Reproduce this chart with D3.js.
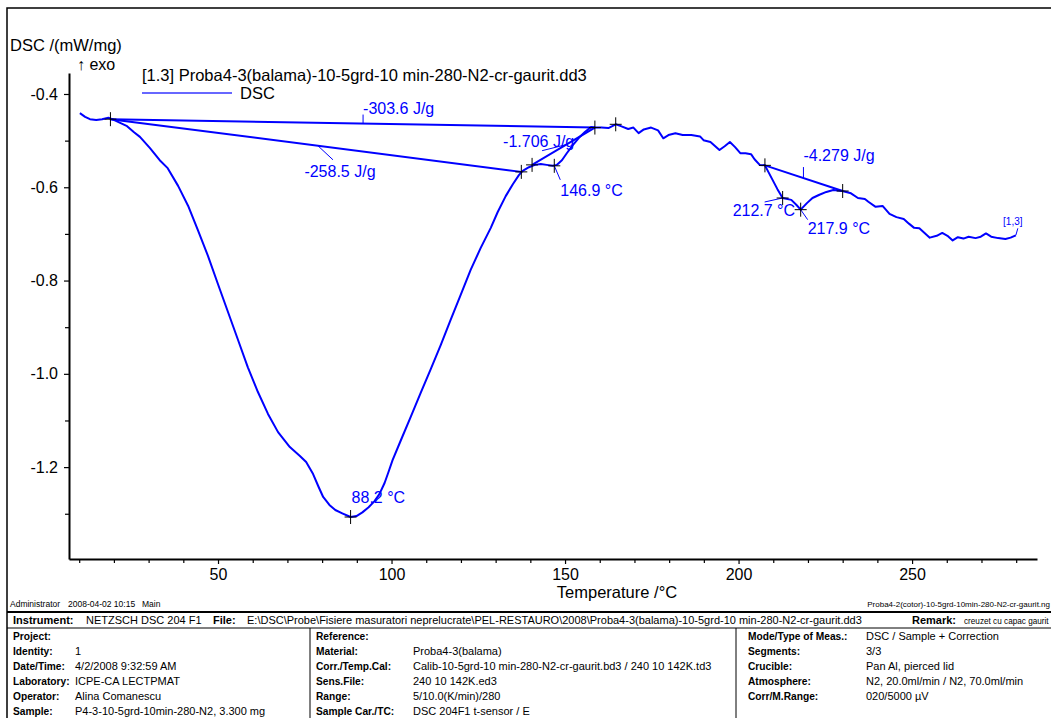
<!DOCTYPE html>
<html>
<head>
<meta charset="utf-8">
<script src="https://cdn.jsdelivr.net/npm/d3@7"></script>
<style>
body { margin: 0; background: #fff; }
svg { display: block; font-family: "Liberation Sans", Arial, sans-serif; }
</style>
</head>
<body>
<div id="chart"></div>
<script>
// DSC curve, temperature /°C and DSC /(mW/mg)
var tempC = [10.2, 11.7, 13.1, 14.9, 16.6, 18.4, 19.5, 21.8, 23.8, 25.8, 27.5, 30.4, 33.2, 35.5,
    38.5, 41.4, 44.2, 47.1, 50.0, 52.9, 55.8, 58.6, 61.5, 64.4, 67.3, 70.7, 73.6, 75.4, 77.4,
    78.9, 80.3, 82.1, 83.8, 85.8, 88.2, 89.9, 91.6, 93.4, 95.1, 96.5, 98.0, 99.1, 100.3, 102.6,
    105.5, 108.4, 111.3, 114.2, 117.0, 119.9, 122.8, 125.7, 128.6, 130.6, 132.9, 135.0, 136.7,
    137.8, 139.6, 141.3, 143.0, 144.7, 146.5, 147.6, 149.1, 150.5, 152.3, 154.0, 155.8, 157.5,
    158.6, 160.5, 162.5, 164.6, 166.1, 168.2, 169.7, 171.2, 172.7, 174.8, 176.8, 178.3, 179.8,
    181.8, 183.9, 186.4, 188.9, 189.9, 191.9, 194.5, 196.0, 197.5, 199.0, 200.5, 202.0, 203.6,
    204.6, 206.1, 207.6, 211.2, 212.7, 215.2, 216.7, 217.9, 219.7, 221.3, 223.3, 225.3, 227.3,
    229.9, 232.4, 234.4, 236.4, 237.4, 239.5, 241.5, 243.5, 245.5, 247.6, 249.1, 250.6, 252.1,
    253.6, 255.1, 257.1, 258.7, 260.2, 261.7, 263.2, 264.8, 266.3, 268.3, 269.8, 271.3, 272.8,
    274.8, 276.9, 278.4, 279.9];
var dscVal = [-0.441, -0.449, -0.454, -0.456, -0.454, -0.451, -0.454, -0.462, -0.469, -0.482,
    -0.492, -0.516, -0.542, -0.559, -0.597, -0.640, -0.692, -0.747, -0.808, -0.868, -0.928,
    -0.986, -1.039, -1.086, -1.125, -1.157, -1.176, -1.189, -1.215, -1.241, -1.264, -1.281,
    -1.292, -1.299, -1.307, -1.305, -1.297, -1.286, -1.273, -1.258, -1.234, -1.211, -1.185,
    -1.144, -1.093, -1.041, -0.990, -0.938, -0.885, -0.831, -0.777, -0.730, -0.687, -0.653,
    -0.619, -0.593, -0.574, -0.565, -0.557, -0.552, -0.550, -0.552, -0.554, -0.552, -0.542,
    -0.527, -0.509, -0.494, -0.481, -0.471, -0.472, -0.472, -0.473, -0.465, -0.469, -0.475,
    -0.472, -0.484, -0.476, -0.472, -0.478, -0.495, -0.488, -0.484, -0.488, -0.488, -0.491,
    -0.499, -0.503, -0.520, -0.512, -0.503, -0.514, -0.527, -0.527, -0.529, -0.540, -0.552,
    -0.553, -0.604, -0.623, -0.627, -0.638, -0.648, -0.634, -0.623, -0.616, -0.610, -0.606,
    -0.608, -0.613, -0.623, -0.625, -0.631, -0.642, -0.640, -0.657, -0.664, -0.668, -0.678,
    -0.687, -0.688, -0.698, -0.708, -0.704, -0.698, -0.704, -0.714, -0.707, -0.710, -0.706,
    -0.709, -0.706, -0.699, -0.706, -0.709, -0.711, -0.708, -0.703];

var xMajor = [50, 100, 150, 200, 250];
var xMinor = [10, 20, 30, 40, 60, 70, 80, 90, 110, 120, 130, 140, 160, 170, 180, 190, 210, 220, 230, 240, 260, 270, 280];
var yMajor = [-0.4, -0.6, -0.8, -1.0, -1.2];
var yMinor = [-0.5, -0.7, -0.9, -1.1, -1.3];

// evaluation marks ("+") and area baselines
var markT = [19.0, 137.4, 140.5, 146.9, 158.6, 164.6, 88.2, 207.6, 212.7, 217.9, 230.0];
var markY = [-0.454, -0.567, -0.552, -0.554, -0.472, -0.465, -1.307, -0.553, -0.623, -0.648, -0.608];
var areaLabels = ["-303.6 J/g", "-258.5 J/g", "-1.706 J/g", "-4.279 J/g"];
var areaFrom = [[19.0, -0.454], [19.0, -0.454], [140.5, -0.552], [207.6, -0.553]];
var areaTo = [[158.6, -0.472], [137.4, -0.567], [158.6, -0.472], [230.0, -0.608]];
var peakLabels = ["88.2 °C", "146.9 °C", "212.7 °C", "217.9 °C"];
var peakT = [88.2, 146.9, 212.7, 217.9];
var peakY = [-1.307, -0.554, -0.623, -0.648];

var width = 1051, height = 718;
var blue = "#0000ff";

var svg = d3.select("#chart").append("svg")
    .attr("width", width)
    .attr("height", height);

var x = d3.scaleLinear().domain([7.06, 286.0]).range([69, 1037]);
var y = d3.scaleLinear().domain([-1.397, -0.355]).range([559, 73]);

// page frame
svg.append("path")
    .attr("d", "M7,718V8H1051")
    .attr("fill", "none").attr("stroke", "#000").attr("stroke-width", 1.5);

// axes
var gx = svg.append("g").attr("transform", "translate(0,559)");
gx.call(d3.axisBottom(x).tickValues(xMajor).tickSize(5).tickSizeOuter(0).tickPadding(5)
    .tickFormat(function(d) { return d; }));
gx.append("g").call(d3.axisBottom(x).tickValues(xMinor).tickSize(4).tickFormat(""))
    .select(".domain").remove();

var gy = svg.append("g").attr("transform", "translate(69,0)");
gy.call(d3.axisLeft(y).tickValues(yMajor).tickSize(5).tickSizeOuter(0).tickPadding(6)
    .tickFormat(function(d) { return d.toFixed(1); }));
gy.append("g").call(d3.axisLeft(y).tickValues(yMinor).tickSize(4).tickFormat(""))
    .select(".domain").remove();

svg.selectAll(".domain").attr("stroke", "#000").attr("stroke-width", 2);
svg.selectAll(".tick line").attr("stroke", "#000").attr("stroke-width", 1.2);
svg.selectAll(".tick text").attr("font-size", 16).attr("font-family", "Liberation Sans, Arial, sans-serif").attr("fill", "#000");

svg.append("text").attr("x", 10).attr("y", 51).attr("font-size", 16.5).text("DSC /(mW/mg)");
svg.append("text").attr("x", 77).attr("y", 70).attr("font-size", 16).text("\u2191 exo");
svg.append("text").attr("x", 617).attr("y", 598).attr("font-size", 16.5)
    .attr("text-anchor", "middle").text("Temperature /°C");

// legend
svg.append("text").attr("x", 142).attr("y", 81).attr("font-size", 16.5)
    .text("[1.3] Proba4-3(balama)-10-5grd-10 min-280-N2-cr-gaurit.dd3");
svg.append("line").attr("x1", 142).attr("x2", 232).attr("y1", 93).attr("y2", 93)
    .attr("stroke", "#3535ff").attr("stroke-width", 1.5);
svg.append("text").attr("x", 240).attr("y", 99).attr("font-size", 16.5).text("DSC");

// curve
var curveData = tempC.map(function(t, i) { return [t, dscVal[i]]; });
var line = d3.line().x(function(d) { return x(d[0]); }).y(function(d) { return y(d[1]); });

svg.append("path")
    .datum(curveData)
    .attr("d", line)
    .attr("fill", "none")
    .attr("stroke", blue)
    .attr("stroke-width", 2)
    .attr("stroke-linejoin", "round");

// baselines
areaFrom.forEach(function(p, i) {
    svg.append("path").datum([p, areaTo[i]]).attr("d", line)
        .attr("fill", "none").attr("stroke", blue).attr("stroke-width", 2);
});

function baseAt(i, t) {
    var a = areaFrom[i], b = areaTo[i];
    return a[1] + (b[1] - a[1]) * (t - a[0]) / (b[0] - a[0]);
}

var ann = svg.append("g").attr("fill", blue).attr("font-size", 16);
function leader(x1, y1, x2, y2) {
    ann.append("line").attr("x1", x1).attr("y1", y1).attr("x2", x2).attr("y2", y2)
        .attr("stroke", blue).attr("stroke-width", 1);
}

// -303.6 J/g
var t0 = 91.8, px = x(t0), py = y(baseAt(0, t0));
leader(px, py, px, py - 9);
ann.append("text").attr("x", px).attr("y", py - 10).text(areaLabels[0]);
// -258.5 J/g
t0 = 78.8; px = x(t0); py = y(baseAt(1, t0));
leader(px, py, px + 15, py + 14);
ann.append("text").attr("x", px + 22).attr("y", py + 31).attr("text-anchor", "middle").text(areaLabels[1]);
// -1.706 J/g
t0 = 150.3; px = x(t0); py = y(baseAt(2, t0));
leader(px, py, px - 24, py + 6);
ann.append("text").attr("x", px - 63).attr("y", py + 2).text(areaLabels[2]);
// -4.279 J/g
t0 = 218.7; px = x(t0); py = y(baseAt(3, t0));
leader(px, py, px, py - 11);
ann.append("text").attr("x", px).attr("y", py - 17).text(areaLabels[3]);

// peak labels
px = x(peakT[0]); py = y(peakY[0]);
ann.append("text").attr("x", px + 1).attr("y", py - 14).text(peakLabels[0]);
px = x(peakT[1]); py = y(peakY[1]);
leader(px, py, px + 6, py + 14);
ann.append("text").attr("x", px + 6).attr("y", py + 30).text(peakLabels[1]);
px = x(peakT[2]); py = y(peakY[2]);
leader(px, py, px - 18, py + 4);
ann.append("text").attr("x", px - 50).attr("y", py + 18).text(peakLabels[2]);
px = x(peakT[3]); py = y(peakY[3]);
leader(px, py, px + 7, py + 10);
ann.append("text").attr("x", px + 7).attr("y", py + 24).text(peakLabels[3]);

// curve id tag
var last = curveData[curveData.length - 1];
px = x(last[0]); py = y(last[1]);
leader(px, py, px + 2, py - 7);
ann.append("text").attr("x", px - 3).attr("y", py - 10).attr("font-size", 10)
    .attr("text-anchor", "middle").text("[1,3]");

// marks
var marks = svg.append("g").attr("stroke", "#000").attr("stroke-width", 1);
markT.forEach(function(t, i) {
    var cx = x(t), cy = y(markY[i]);
    marks.append("path").attr("d", "M" + (cx - 6) + "," + cy + "H" + (cx + 6) +
        "M" + cx + "," + (cy - 7) + "V" + (cy + 7));
});

// footer
var foot = svg.append("g").attr("font-size", 11).attr("fill", "#000");
[["Administrator", 10], ["2008-04-02 10:15", 68], ["Main", 142]].forEach(function(c) {
    foot.append("text").attr("x", c[1]).attr("y", 607).attr("font-size", 8.5).text(c[0]);
});
foot.append("text").attr("x", 1050).attr("y", 607).attr("font-size", 8).attr("text-anchor", "end")
    .text("Proba4-2(cotor)-10-5grd-10min-280-N2-cr-gaurit.ng");

var rules = svg.append("g").attr("stroke", "#000");
rules.append("line").attr("x1", 7).attr("x2", 1051).attr("y1", 612).attr("y2", 612).attr("stroke-width", 2);
rules.append("line").attr("x1", 7).attr("x2", 1051).attr("y1", 628).attr("y2", 628).attr("stroke-width", 1);
rules.append("line").attr("x1", 310).attr("x2", 310).attr("y1", 628).attr("y2", 718).attr("stroke-width", 1);
rules.append("line").attr("x1", 736).attr("x2", 736).attr("y1", 628).attr("y2", 718).attr("stroke-width", 1);

var instRow = [
    ["Instrument:", 13, true], ["NETZSCH DSC 204 F1", 86, false], ["File:", 213, true],
    ["E:\\DSC\\Probe\\Fisiere masuratori neprelucrate\\PEL-RESTAURO\\2008\\Proba4-3(balama)-10-5grd-10 min-280-N2-cr-gaurit.dd3", 247, false],
    ["Remark:", 912, true]
];
instRow.forEach(function(c) {
    foot.append("text").attr("x", c[1]).attr("y", 624)
        .attr("font-weight", c[2] ? "bold" : "normal").text(c[0]);
});
foot.append("text").attr("x", 964).attr("y", 624).attr("font-size", 8.2)
    .text("creuzet cu capac gaurit");

var colLabels = [
    ["Project:", "Identity:", "Date/Time:", "Laboratory:", "Operator:", "Sample:"],
    ["Reference:", "Material:", "Corr./Temp.Cal:", "Sens.File:", "Range:", "Sample Car./TC:"],
    ["Mode/Type of Meas.:", "Segments:", "Crucible:", "Atmosphere:", "Corr/M.Range:", ""]
];
var colValues = [
    ["", "1", "4/2/2008 9:32:59 AM", "ICPE-CA LECTPMAT", "Alina Comanescu", "P4-3-10-5grd-10min-280-N2, 3.300 mg"],
    ["", "Proba4-3(balama)", "Calib-10-5grd-10 min-280-N2-cr-gaurit.bd3 / 240 10 142K.td3", "240 10 142K.ed3", "5/10.0(K/min)/280", "DSC 204F1 t-sensor / E"],
    ["DSC / Sample + Correction", "3/3", "Pan Al, pierced lid", "N2, 20.0ml/min / N2, 70.0ml/min", "020/5000 \u00b5V", ""]
];
var colLabelX = [13, 316, 748];
var colValueX = [75, 413, 866];
colLabels.forEach(function(col, c) {
    col.forEach(function(lab, r) {
        var yy = 640 + r * 15;
        foot.append("text").attr("x", colLabelX[c]).attr("y", yy).attr("font-size", 10.2)
            .attr("font-weight", "bold").text(lab);
        foot.append("text").attr("x", colValueX[c]).attr("y", yy).text(colValues[c][r]);
    });
});
</script>
</body>
</html>
